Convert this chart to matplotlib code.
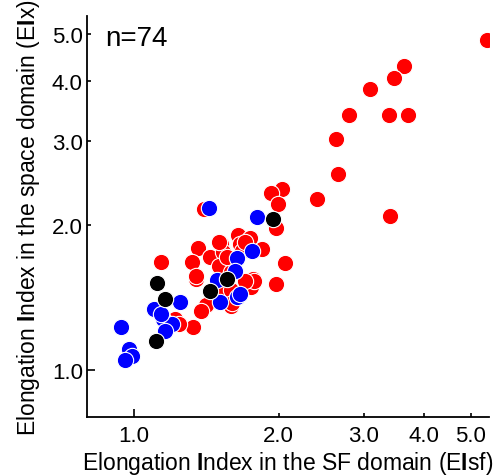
import matplotlib
matplotlib.use("Agg")
import matplotlib.pyplot as plt
from matplotlib.ticker import FixedLocator, FixedFormatter, NullLocator

plt.rcParams['font.family'] = ['Liberation Sans', 'DejaVu Sans']
plt.rcParams['mathtext.fontset'] = 'custom'
plt.rcParams['mathtext.rm'] = 'Liberation Sans'
plt.rcParams['mathtext.bf'] = 'Liberation Sans:bold'

# Elongation index in SF domain (EIsf) and space domain (EIx)
red_eisf = [5.40, 3.63, 3.47, 3.10, 2.80, 3.39, 3.71, 2.63, 2.65, 2.40, 3.40, 2.03,
            1.93, 1.99, 1.97, 1.40, 2.06, 1.97, 1.77, 1.75, 1.65, 1.74, 1.85, 1.66,
            1.68, 1.52, 1.36, 1.44, 1.53, 1.32, 1.50, 1.14, 1.35, 1.54, 1.59, 1.59,
            1.41, 1.38, 1.33, 1.22, 1.50, 1.70, 1.59, 1.60, 1.35, 1.56, 1.24, 1.78,
            1.70]
red_eix = [4.85, 4.30, 4.05, 3.85, 3.40, 3.39, 3.39, 3.03, 2.56, 2.27, 2.09, 2.38,
           2.34, 2.22, 1.98, 2.16, 1.67, 1.51, 1.55, 1.49, 1.91, 1.88, 1.79, 1.83,
           1.77, 1.83, 1.80, 1.72, 1.76, 1.68, 1.65, 1.68, 1.55, 1.45, 1.60, 1.36,
           1.37, 1.33, 1.23, 1.28, 1.85, 1.85, 1.47, 1.38, 1.57, 1.72, 1.25, 1.53,
           1.53]
blue_eisf = [1.43, 1.80, 1.76, 1.64, 1.62, 1.49, 1.64, 1.51, 1.25, 1.10, 1.15, 1.20,
             1.16, 0.94, 0.98, 0.99, 0.96, 1.66, 1.14]
blue_eix = [2.17, 2.08, 1.77, 1.71, 1.61, 1.54, 1.42, 1.39, 1.39, 1.34, 1.28, 1.25,
            1.21, 1.23, 1.11, 1.07, 1.05, 1.44, 1.31]
black_eisf = [1.95, 1.56, 1.44, 1.12, 1.16, 1.11]
black_eix = [2.06, 1.55, 1.46, 1.52, 1.41, 1.15]

tick_vals = [1.0, 2.0, 3.0, 4.0, 5.0]
tick_labels = ['1.0', '2.0', '3.0', '4.0', '5.0']
n_label = 'n=74'

fig = plt.figure(figsize=(4.99, 4.77), dpi=100)
ax = fig.add_axes([0.1743, 0.1237, 0.8056, 0.8407])

kw = dict(s=138, edgecolors='white', linewidths=0.8)
ax.scatter(red_eisf, red_eix, c='#ff0000', zorder=2, **kw)
ax.scatter(blue_eisf, blue_eix, c='#0000ff', zorder=3, **kw)
ax.scatter(black_eisf, black_eix, c='#000000', zorder=4, **kw)

ax.set_xscale('log')
ax.set_yscale('log')
ax.set_xlim(0.80, 5.46)
ax.set_ylim(0.80, 5.45)

for axis in (ax.xaxis, ax.yaxis):
    axis.set_major_locator(FixedLocator(tick_vals))
    axis.set_major_formatter(FixedFormatter(tick_labels))
    axis.set_minor_locator(NullLocator())

ax.tick_params(direction='in', length=3, width=1.2, labelsize=16)
ax.tick_params(axis='x', pad=6)
ax.tick_params(axis='y', pad=3)
ax.xaxis.get_major_ticks()[0].tick1line.set_markersize(6)
ax.yaxis.get_major_ticks()[0].tick1line.set_markersize(6)

for side in ('top', 'right'):
    ax.spines[side].set_visible(False)
for side in ('left', 'bottom'):
    ax.spines[side].set_linewidth(1.3)

ax.set_xlabel(r'Elongation $\mathbf{I}$ndex in the SF domain (E$\mathbf{I}$sf)', fontsize=16.5, labelpad=2)
ax.set_ylabel(r'Elongation $\mathbf{I}$ndex in the space domain (E$\mathbf{I}$x)', fontsize=16.5, labelpad=7)

ax.text(0.045, 0.945, n_label, transform=ax.transAxes, fontsize=20, ha='left', va='center')

fig.savefig('out.png', dpi=100)
